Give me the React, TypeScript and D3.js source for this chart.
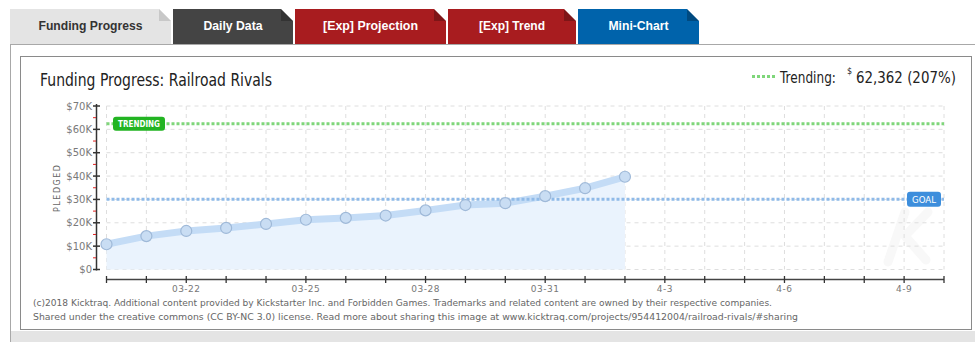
import React from "react";
import * as d3 from "d3";

const tabNames = ["Funding Progress", "Daily Data", "[Exp] Projection", "[Exp] Trend", "Mini-Chart"];
const tabColors = ["#e4e4e4", "#444444", "#a81c1f", "#a81c1f", "#0063ab"];
const tabTextColors = ["#333333", "#ffffff", "#ffffff", "#ffffff", "#ffffff"];
const tabX = [10, 173, 295, 448, 578];
const tabW = [161, 120, 151, 128, 121];
const tabTextW = [104, 59, 95, 66, 60];

const dates = [
  "2018-03-20", "2018-03-21", "2018-03-22", "2018-03-23", "2018-03-24", "2018-03-25", "2018-03-26",
  "2018-03-27", "2018-03-28", "2018-03-29", "2018-03-30", "2018-03-31", "2018-04-01", "2018-04-02",
];
const pledged = [10800, 14300, 16500, 17800, 19500, 21300, 22100, 23100, 25300, 27600, 28400, 31400, 34800, 39700];

const goal = 30126;
const trending = 62362;
const trendingPct = 207;

const yTicks = [0, 10000, 20000, 30000, 40000, 50000, 60000, 70000];
const yTickLabels = ["$0", "$10K", "$20K", "$30K", "$40K", "$50K", "$60K", "$70K"];
const yMinorTicks = [5000, 15000, 25000, 35000, 45000, 55000, 65000];

const xStart = "2018-03-20";
const xEnd = "2018-04-10";
const xTickDates = ["2018-03-22", "2018-03-25", "2018-03-28", "2018-03-31", "2018-04-03", "2018-04-06", "2018-04-09"];
const xTickLabels = ["03-22", "03-25", "03-28", "03-31", "4-3", "4-6", "4-9"];

const title = "Funding Progress: Railroad Rivals";
const footer1 =
  "(c)2018 Kicktraq. Additional content provided by Kickstarter Inc. and Forbidden Games. Trademarks and related content are owned by their respective companies.";
const footer2 =
  "Shared under the creative commons (CC BY-NC 3.0) license. Read more about sharing this image at www.kicktraq.com/projects/954412004/railroad-rivals/#sharing";

const parse = (s: string) => new Date(s + "T00:00:00Z");

export default function App() {
  const W = 975;
  const H = 342;
  const x = d3.scaleUtc().domain([parse(xStart), parse(xEnd)]).range([106.5, 944]);
  const y = d3.scaleLinear().domain([0, 70000]).range([269.5, 106]);
  const days = d3.utcDay.range(parse(xStart), d3.utcDay.offset(parse(xEnd), 1));
  const pts = dates.map((d, i) => ({ d: parse(d), v: pledged[i] }));
  const line = d3.line<{ d: Date; v: number }>().x((p) => x(p.d)).y((p) => y(p.v));
  const area = d3
    .area<{ d: Date; v: number }>()
    .x((p) => x(p.d))
    .y0(y(0))
    .y1((p) => y(p.v));
  const font = "'DejaVu Sans', Verdana, sans-serif";
  const tabFont = "'Liberation Sans Narrow', 'Liberation Sans', Arial, sans-serif";
  const x0 = x.range()[0];
  const x1 = x.range()[1];

  return (
    <svg width={W} height={H} style={{ position: "absolute", left: 0, top: 0 }} xmlns="http://www.w3.org/2000/svg">
      <rect x={0} y={0} width={W} height={H} fill="#ffffff" />
      {/* tabs */}
      {tabNames.map((t, i) => (
        <g key={t}>
          <rect x={tabX[i]} y={9} width={tabW[i]} height={35} fill={tabColors[i]} />
          <path
            d={`M${tabX[i] + tabW[i] - 12},9 L${tabX[i] + tabW[i]},21 L${tabX[i] + tabW[i]},9 Z`}
            fill="#ffffff"
          />
          <path
            d={`M${tabX[i] + tabW[i] - 12},9 L${tabX[i] + tabW[i]},21 L${tabX[i] + tabW[i] - 12},21 Z`}
            fill={i === 0 ? "#c8c8c8" : "rgba(0,0,0,0.25)"}
          />
          <text
            x={tabX[i] + tabW[i] / 2}
            y={30}
            textAnchor="middle"
            fontFamily={tabFont}
            fontWeight="bold"
            fontSize={13}
            fill={tabTextColors[i]}
            textLength={tabTextW[i]}
            lengthAdjust="spacingAndGlyphs"
          >
            {t}
          </text>
        </g>
      ))}
      {/* outer panel */}
      <rect x={10.5} y={44.5} width={970} height={310} fill="#ffffff" stroke="#a8a8a8" />
      <rect x={11} y={331} width={970} height={12} fill="#e4e4e4" />
      {/* inner box */}
      <rect x={20.5} y={56.5} width={951} height={273} fill="#ffffff" stroke="#8a8a8a" />

      {/* title */}
      <text x={40} y={86} fontFamily={font} fontSize={17} fill="#222" textLength={232} lengthAdjust="spacingAndGlyphs">
        {title}
      </text>

      {/* legend */}
      <line x1={752} x2={776} y1={76.5} y2={76.5} stroke="#7fd67a" strokeWidth={3} strokeDasharray="3,2" />
      <text transform="translate(780,83) scale(0.757,1)" fontFamily={font} fontSize={16} fill="#222">
        Trending:
      </text>
      <text x={852} y={74} textAnchor="end" fontFamily={font} fontSize={8} fill="#222">
        $
      </text>
      <text transform="translate(856,83) scale(0.838,1)" fontFamily={font} fontSize={16} fill="#222">
        {`${d3.format(",")(trending)} (${trendingPct}%)`}
      </text>

      {/* watermark */}
      <path d="M888,262 L905,212 M905,236 L928,212 M905,236 L926,260" stroke="#f8f8f8" strokeWidth={9} fill="none" strokeLinecap="round" />

      {/* grid */}
      {yTicks.map((t) => (
        <line key={"gy" + t} x1={x0} x2={x1} y1={y(t)} y2={y(t)} stroke="#dedede" strokeDasharray="4,4" />
      ))}
      {days.map((d) => (
        <line key={"gx" + d.getTime()} x1={x(d)} x2={x(d)} y1={y(70000)} y2={y(0)} stroke="#dedede" strokeDasharray="4,4" />
      ))}

      {/* area & line */}
      <path d={area(pts) || ""} fill="#eaf3fd" />
      <path d={line(pts) || ""} fill="none" stroke="#c4dcf6" strokeWidth={7} strokeLinejoin="round" strokeLinecap="round" />

      {/* goal line */}
      <line x1={x0} x2={x1} y1={y(goal)} y2={y(goal)} stroke="#8fbae8" strokeWidth={3} strokeDasharray="3,2" />
      {/* trending line */}
      <line x1={x0} x2={x1} y1={y(trending)} y2={y(trending)} stroke="#7fd67a" strokeWidth={3} strokeDasharray="3,2" />

      {pts.map((p, i) => (
        <circle key={i} cx={x(p.d)} cy={y(p.v)} r={5.5} fill="#c9ddf3" stroke="#9fb9d8" strokeWidth={1.2} />
      ))}

      {/* badges */}
      <rect x={113} y={y(trending) - 7} width={52} height={14} rx={3} fill="#22b422" />
      <text x={139} y={y(trending) + 3.5} textAnchor="middle" fontFamily={font} fontSize={8.5} fontWeight="bold" fill="#fff" textLength={42} lengthAdjust="spacingAndGlyphs">
        TRENDING
      </text>
      <rect x={907} y={y(goal) - 7.5} width={34} height={15} rx={3} fill="#3d8edc" />
      <text x={924} y={y(goal) + 3.5} textAnchor="middle" fontFamily={font} fontSize={9} fill="#fff" textLength={24} lengthAdjust="spacingAndGlyphs">
        GOAL
      </text>

      {/* y axis */}
      <line x1={96.5} x2={96.5} y1={y(70000) - 2} y2={y(0) + 1} stroke="#333" strokeWidth={1.5} />
      {yTicks.map((t, i) => (
        <g key={"yt" + t}>
          <line x1={93} x2={100} y1={y(t)} y2={y(t)} stroke="#333" strokeWidth={1.5} />
          <text x={92} y={y(t) + 3.5} textAnchor="end" fontFamily={font} fontSize={10} fill="#7a7a7a">
            {yTickLabels[i]}
          </text>
        </g>
      ))}
      {yMinorTicks.map((t) => (
        <line key={"ym" + t} x1={93} x2={96} y1={y(t)} y2={y(t)} stroke="#e02020" strokeWidth={1} />
      ))}
      <text
        transform={`translate(60,${y(35000)}) rotate(-90)`}
        textAnchor="middle"
        fontFamily={font}
        fontSize={8}
        letterSpacing={1.5}
        fill="#666"
      >
        PLEDGED
      </text>

      {/* x axis */}
      <line x1={x0} x2={x1} y1={279.5} y2={279.5} stroke="#444" strokeWidth={1.5} />
      {days.map((d) => (
        <line key={"xt" + d.getTime()} x1={x(d)} x2={x(d)} y1={276} y2={283} stroke="#333" strokeWidth={1.3} />
      ))}
      {xTickDates.map((d, i) => (
        <text key={"xl" + d} x={x(parse(d))} y={292} textAnchor="middle" fontFamily={font} fontSize={9} letterSpacing={0.5} fill="#777">
          {xTickLabels[i]}
        </text>
      ))}

      {/* footer */}
      <text x={33} y={306} fontFamily={font} fontSize={9} fill="#666" textLength={739} lengthAdjust="spacingAndGlyphs">
        {footer1}
      </text>
      <text x={33} y={320} fontFamily={font} fontSize={9} fill="#666" textLength={765} lengthAdjust="spacingAndGlyphs">
        {footer2}
      </text>
    </svg>
  );
}
